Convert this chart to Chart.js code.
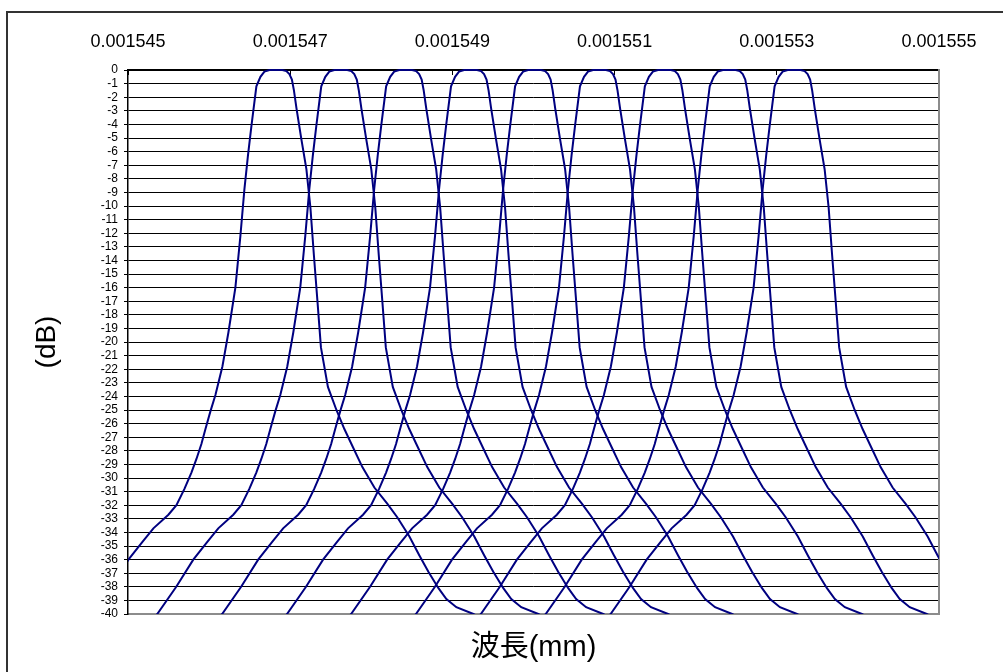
<!DOCTYPE html>
<html>
<head>
<meta charset="utf-8">
<script src="https://cdn.jsdelivr.net/npm/chart.js@4.4.1/dist/chart.umd.min.js"></script>
<style>
  html, body { margin: 0; padding: 0; background: #ffffff; }
  canvas { display: block; }
</style>
</head>
<body>
<canvas id="spectrum" width="1003" height="672"></canvas>
<script>
// Centre wavelength of each of the nine channels (nm)
const channelCentersNm = [1546.83, 1547.63, 1548.43, 1549.23, 1550.02, 1550.82, 1551.62, 1552.42, 1553.22];

// Passband shape of one channel: offset from its centre (nm) and insertion loss (dB)
const passbandOffsetNm = [
  -2.429, -2.269, -2.035, -1.825, -1.652, -1.517, -1.332, -1.233, -1.134, -1.048,
  -0.986, -0.925, -0.875, -0.814, -0.752, -0.666, -0.592, -0.506, -0.444, -0.395,
  -0.351, -0.308, -0.247, -0.197, -0.148, -0.086,
   0.074,  0.123,  0.160,  0.191,  0.216,  0.247,  0.308,  0.370,  0.419,  0.462,
   0.506,  0.549,  0.635,  0.740,  0.838,  0.925,  1.060,  1.208,  1.369,  1.492,
   1.640,  1.763,  1.874,  1.998,  2.096,  2.219,  2.429,  2.589
];
const passbandLossDb = [
  -41.0, -40.0, -38.0, -36.0, -34.7, -33.7, -32.7, -32.0, -30.8, -29.6,
  -28.6, -27.5, -26.4, -25.1, -23.9, -21.8, -19.3, -16.0, -12.2, -8.8,
  -6.3, -4.1, -1.2, -0.5, -0.12, 0.0,
   0.0, -0.08, -0.3, -0.7, -1.5, -2.8, -5.1, -7.3, -10.1, -13.6,
  -17.0, -20.4, -23.3, -25.0, -26.4, -27.5, -29.2, -30.7, -31.9, -32.9,
  -34.3, -35.7, -36.9, -38.1, -38.9, -39.5, -40.0, -40.5
];

// Axis labels
const xTickLabels = ['0.001545', '0.001547', '0.001549', '0.001551', '0.001553', '0.001555'];
const xTitle = '波長(mm)';
const yTitle = '(dB)';

const LINE_COLOR = '#000080';
const FONT = "'Liberation Sans', Arial, 'Noto Sans CJK JP', sans-serif";

const datasets = channelCentersNm.map((centre, ch) => ({
  label: 'CH' + (ch + 1),
  data: passbandOffsetNm.map((off, i) => ({ x: centre + off, y: passbandLossDb[i] })),
  borderColor: LINE_COLOR,
  borderWidth: 2,
  pointRadius: 0,
  tension: 0,
  fill: false,
  clip: { left: 0, right: 0, top: 2, bottom: 0 }
}));

// White page with the outer frame
const framePlugin = {
  id: 'frame',
  beforeDraw(chart) {
    const ctx = chart.ctx;
    ctx.save();
    ctx.fillStyle = '#ffffff';
    ctx.fillRect(0, 0, chart.width, chart.height);
    ctx.strokeStyle = '#333333';
    ctx.lineWidth = 2;
    ctx.strokeRect(7, 12, chart.width + 40, chart.height + 40);
    ctx.restore();
  }
};

new Chart(document.getElementById('spectrum'), {
  type: 'line',
  data: { datasets },
  plugins: [framePlugin],
  options: {
    responsive: false,
    animation: false,
    devicePixelRatio: 1,
    layout: { padding: 0 },
    plugins: { legend: { display: false }, tooltip: { enabled: false } },
    scales: {
      x: {
        type: 'linear',
        position: 'top',
        min: 1545, max: 1555,
        afterFit: s => { s.height = 70; },
        ticks: {
          stepSize: 2,
          autoSkip: false,
          maxRotation: 0,
          padding: 22,
          color: '#000',
          font: { family: FONT, size: 18 },
          callback: (v, i) => xTickLabels[i]
        },
        grid: { drawOnChartArea: false, drawTicks: true, tickLength: -5, tickColor: '#000', tickWidth: 1 },
        border: { display: true, color: '#000', width: 1.5 }
      },
      xb: {
        type: 'linear',
        position: 'bottom',
        min: 1545, max: 1555,
        afterFit: s => { s.height = 58; },
        ticks: { display: false },
        grid: { display: false, drawTicks: false },
        border: { display: true, color: '#8c8c8c', width: 2 },
        title: {
          display: true, text: xTitle, color: '#000',
          font: { family: FONT, size: 29 },
          padding: { top: 0, bottom: 7 }
        }
      },
      y: {
        type: 'linear',
        position: 'left',
        min: -40, max: 0,
        afterFit: s => { s.width = 128; },
        ticks: {
          stepSize: 1,
          autoSkip: false,
          padding: 6,
          color: '#000',
          font: { family: FONT, size: 12 }
        },
        grid: {
          color: c => (c.tick && c.tick.value === -40) ? 'rgba(0,0,0,0)' : '#000',
          lineWidth: 1,
          drawTicks: true,
          tickLength: 4,
          tickColor: '#000'
        },
        border: { display: true, color: '#000', width: 1.5 },
        title: {
          display: true, text: yTitle, color: '#000',
          font: { family: FONT, size: 28 },
          padding: { top: 30, bottom: 0 }
        }
      },
      yr: {
        type: 'linear',
        position: 'right',
        min: -40, max: 0,
        afterFit: s => { s.width = 64; },
        ticks: { display: false },
        grid: { display: false, drawTicks: false },
        border: { display: true, color: '#8c8c8c', width: 2 }
      }
    }
  }
});
</script>
</body>
</html>
